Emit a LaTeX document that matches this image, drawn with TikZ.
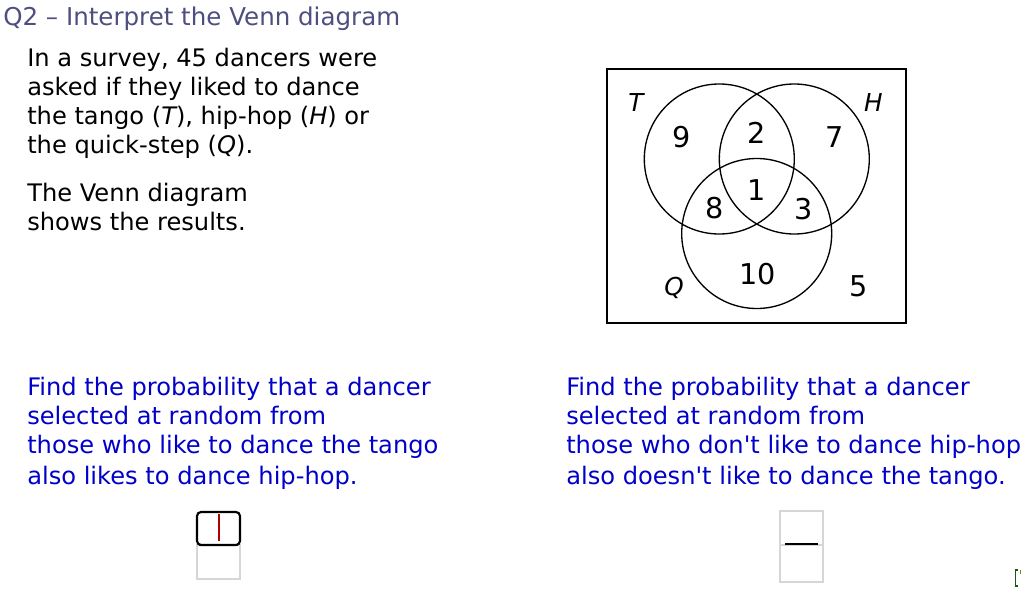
\documentclass[tikz,border=0pt]{standalone}
\usepackage{fontspec}
\setmainfont{DejaVu Sans}
\newfontfamily\dv{DejaVu Sans}
\newfontfamily\vennit{DejaVu Sans Oblique}
\definecolor{titlecol}{RGB}{78,78,128}
\definecolor{qblue}{RGB}{0,0,200}
\definecolor{boxgray}{RGB}{214,214,214}
\definecolor{cursorred}{RGB}{176,0,0}
\definecolor{brgreen}{RGB}{20,90,20}
\tikzset{
  body/.style={anchor=base west, inner sep=0pt, font=\fontsize{18.1}{22}\selectfont\dv, text=black},
  ask/.style={body, text=qblue},
  titletext/.style={body, text=titlecol, font=\fontsize{18.4}{22}\selectfont\dv},
  num/.style={anchor=center, inner sep=0pt, font=\fontsize{21.5}{24}\selectfont\dv},
  setlab/.style={anchor=center, inner sep=0pt, font=\fontsize{18.5}{22}\selectfont\vennit},
  vcirc/.style={draw=black, line width=1.0pt},
}
\begin{document}
\begin{tikzpicture}[x=0.75pt,y=-0.75pt]
\useasboundingbox (0,0) rectangle (1024,596);
% title
\node[titletext] (title) at (3,26) {Q2 – Interpret the Venn diagram};
% intro text
\node[body] (l1) at (27,66) {In a survey, 45 dancers were};
\node[body] (l2) at (27,95) {asked if they liked to dance};
\node[body] (l3) at (27,124) {the tango ({\itshape T}), hip-hop ({\itshape H}) or};
\node[body] (l4) at (27,153) {the quick-step ({\itshape Q}).};
\node[body] (l5) at (27,201) {The Venn diagram};
\node[body] (l6) at (27,230) {shows the results.};
% Venn diagram
\draw[line width=1.1pt] (607,69) rectangle (906,323);
\draw[vcirc] (719.3,159) circle[radius=75];
\draw[vcirc] (794.3,159) circle[radius=75];
\draw[vcirc] (756.7,233.5) circle[radius=75];
\node[setlab] (T) at (636,103) {T};
\node[setlab] (H) at (873.5,103) {H};
\node[setlab] (Q) at (674,288) {Q};
\node[num] (n9) at (681.7,136.7) {9};
\node[num] (n2) at (756.7,132.5) {2};
\node[num] (n7) at (835,136.7) {7};
\node[num] (n8) at (715,208.3) {8};
\node[num] (n1) at (756.7,190) {1};
\node[num] (n3) at (804,209.3) {3};
\node[num] (n10) at (757.3,274.5) {10};
\node[num] (n5) at (858.3,286.7) {5};
% questions
\node[ask] (a1) at (27,395) {Find the probability that a dancer};
\node[ask] (a2) at (27,424) {selected at random from};
\node[ask] (a3) at (27,453) {those who like to dance the tango};
\node[ask] (a4) at (27,484) {also likes to dance hip-hop.};
\node[ask] (b1) at (566,395) {Find the probability that a dancer};
\node[ask] (b2) at (566,424) {selected at random from};
\node[ask] (b3) at (566,453) {those who don't like to dance hip-hop};
\node[ask] (b4) at (566,484) {also doesn't like to dance the tango.};
% left answer box
\draw[boxgray, line width=1pt] (197,545) rectangle (240,579);
\draw[black, line width=1.6pt, rounded corners=3pt] (197,512) rectangle (240,545);
\draw[black, line width=2.2pt] (199,545) -- (238,545);
\draw[cursorred, line width=1.6pt] (219,514) -- (219,541);
% right answer box
\draw[boxgray, line width=1pt] (780,511) rectangle (823,582);
\draw[boxgray, line width=0.8pt] (780,545) -- (823,545);
\draw[black, line width=2pt] (785,544) -- (818,544);
% partial bracket at the corner
\draw[brgreen, line width=1.2pt] (1018,570) -- (1015.5,570) -- (1015.5,586) -- (1018,586);
\draw[olive, line width=1pt] (1020.5,570) -- (1020.5,574);
\end{tikzpicture}
\end{document}
